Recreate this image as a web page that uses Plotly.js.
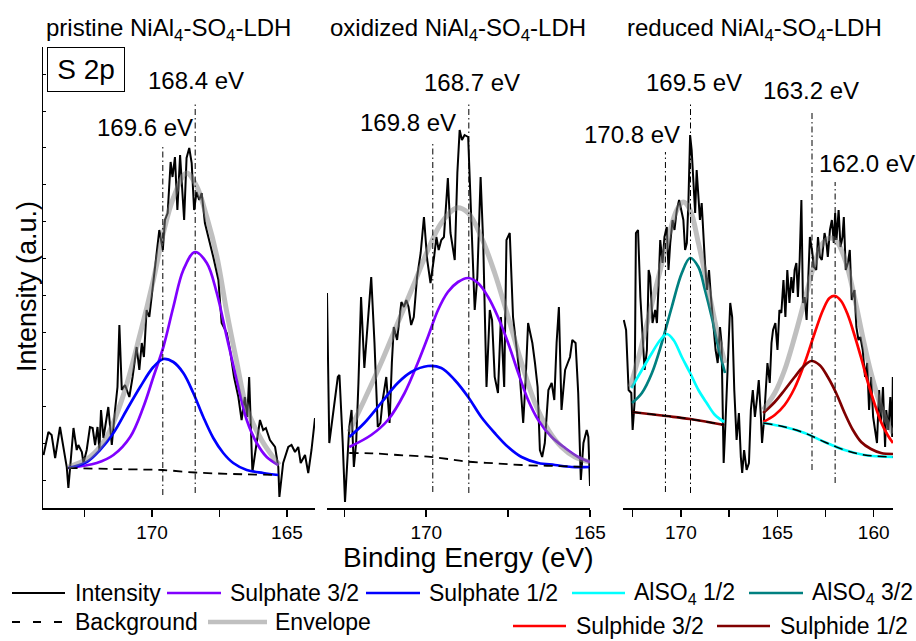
<!DOCTYPE html>
<html><head><meta charset="utf-8">
<script src="https://cdn.plot.ly/plotly-3.0.1.min.js"></script>
<style>html,body{margin:0;padding:0;background:#fff}#chart{width:916px;height:641px}</style>
</head><body><div id="chart"></div>
<script>
// ---------------- DATA ----------------
const panelTitles = ['pristine NiAl<sub>4</sub>-SO<sub>4</sub>-LDH','oxidized NiAl<sub>4</sub>-SO<sub>4</sub>-LDH','reduced NiAl<sub>4</sub>-SO<sub>4</sub>-LDH'];
const tickVals1 = [170,165];
const tickText1 = ['170','165'];
const minorVals1 = [172.5,167.5];
const tickVals3 = [170,165,160];
const tickText3 = ['170','165','160'];
const minorVals3 = [172.5,167.5,162.5];

// pristine: raw intensity
const prE = [174.02,173.84,173.72,173.59,173.41,173.28,173.16,173.10,173.04,172.91,172.79,172.73,172.60,172.54,172.42,172.30,172.20,172.11,172.02,171.95,171.89,171.80,171.62,171.49,171.37,171.28,171.21,171.12,171.00,170.84,170.72,170.57,170.47,170.38,170.30,170.20,170.10,169.95,169.83,169.73,169.60,169.52,169.42,169.31,169.24,169.15,169.06,168.96,168.81,168.72,168.62,168.53,168.44,168.35,168.25,168.16,168.04,167.91,167.73,167.54,167.42,167.23,167.11,166.96,166.80,166.68,166.56,166.47,166.40,166.28,166.15,166.00,165.88,165.78,165.63,165.44,165.32,165.28,165.14,164.95,164.83,164.70,164.58,164.49,164.33,164.21,164.09,163.96];
const prI = [53,76,73,50,81,58,41,20,41,80,58,63,56,45,58,81,80,63,81,58,98,70,101,63,98,121,183,118,123,111,131,161,138,165,151,198,191,225,251,278,258,288,295,346,331,351,298,353,288,350,360,345,298,316,308,315,285,271,251,228,185,175,158,131,111,88,111,91,131,36,58,88,78,80,68,61,41,11,45,61,63,56,61,45,53,35,58,90];
const prS32E = [173.10,172.05,171.43,170.81,170.32,169.95,169.58,169.21,168.84,168.41,167.97,167.60,167.23,166.86,166.49,166.12,165.75,165.32];
const prS32 = [40,45,53,71,101,131,161,201,238,256,245,215,171,128,88,65,51,43];
const prS12E = [173.10,172.42,171.93,171.43,170.94,170.44,169.95,169.58,169.21,168.84,168.47,168.10,167.73,167.36,166.99,166.49,165.88,165.32];
const prS12 = [40,46,58,75,98,121,141,149,146,135,115,91,70,55,45,38,35,33];
const prBgE = [173.10,171.50,170.00,169.60,168.40,167.00,165.32];
const prBg = [40,39,38.3,38,35.5,34,33];
const prEnvE = [173.10,172.30,171.68,171.06,170.44,169.95,169.58,169.21,168.72,168.35,167.97,167.60,167.23,166.86,166.49,165.94,165.49,165.28];
const prEnv = [41,51,71,113,174,228,275,310,335,322,291,252,196,146,100,68,50,43];
const prPeaks = [169.6,168.4];
const prDropTop = [361,405];
const prDropBot = [13,15];

// oxidized
const oxE = [173.03,172.96,172.70,172.65,172.55,172.48,172.35,172.28,172.21,172.14,172.07,171.99,171.89,171.79,171.68,171.58,171.48,171.40,171.33,171.22,171.12,171.05,170.99,170.89,170.82,170.76,170.68,170.61,170.54,170.46,170.38,170.28,170.17,170.07,169.97,169.87,169.76,169.69,169.62,169.54,169.46,169.41,169.34,169.26,169.13,169.05,168.98,168.91,168.83,168.72,168.67,168.60,168.52,168.44,168.34,168.26,168.16,168.06,167.99,167.91,167.81,167.72,167.62,167.55,167.45,167.35,167.24,167.14,167.04,166.97,166.89,166.76,166.68,166.60,166.53,166.46,166.38,166.27,166.17,166.09,166.02,165.95,165.87,165.76,165.68,165.61,165.54,165.44,165.36,165.28,165.20,165.10,165.05,165.00];
const oxI = [215,65,131,133,65,6,81,98,41,65,125,211,140,181,231,165,81,85,108,131,85,145,181,168,191,206,201,208,201,183,191,231,255,291,248,225,251,271,258,268,271,298,330,275,248,335,378,368,373,371,331,275,198,231,331,265,121,198,188,131,115,191,121,268,275,191,158,131,85,125,185,165,145,121,58,51,65,118,125,108,165,201,98,138,145,151,168,165,115,28,65,78,71,22];
const oxS32E = [172.35,171.68,171.17,170.66,170.26,169.95,169.64,169.34,169.03,168.72,168.42,168.11,167.81,167.50,167.19,166.89,166.58,166.17,165.76,165.36,165.00];
const oxS32 = [61,73,88,115,145,171,198,216,226,230,225,211,191,165,135,108,88,71,60,51,46];
const oxS12E = [172.35,171.89,171.38,170.87,170.46,169.95,169.54,169.13,168.72,168.32,167.91,167.50,167.09,166.58,166.07,165.56,165.00];
const oxS12 = [71,85,105,125,136,142,140,128,111,91,75,61,51,45,43,41,41];
const oxBgE = [172.35,171.68,170.87,169.95,169.34,168.72,167.91,167.09,166.07,165.00];
const oxBg = [55,54.7,53,51.3,49,46.3,44.7,43,42,40.7];
const oxEnvE = [172.36,171.89,171.38,170.87,170.36,169.95,169.54,169.08,168.72,168.32,167.91,167.50,167.09,166.68,166.27,165.87,165.46,165.00];
const oxEnv = [76,108,145,185,225,258,285,300,295,271,235,191,145,105,78,61,51,46];
const oxPeaks = [169.8,168.7];
const oxDropTop = [366,405];
const oxDropBot = [16,15];

// reduced
const rdE = [172.96,172.84,172.71,172.57,172.50,172.40,172.33,172.22,172.10,171.98,171.88,171.76,171.67,171.59,171.47,171.33,171.24,171.16,171.07,170.95,170.85,170.73,170.64,170.55,170.43,170.33,170.21,170.09,169.99,169.87,169.78,169.69,169.61,169.52,169.44,169.35,169.26,169.18,169.09,169.01,168.92,168.83,168.75,168.64,168.54,168.44,168.32,168.20,168.09,167.97,167.89,167.78,167.68,167.54,167.44,167.34,167.23,167.11,166.99,166.89,166.82,166.72,166.59,166.47,166.37,166.27,166.16,166.06,165.96,165.85,165.79,165.70,165.61,165.51,165.39,165.30,165.22,165.10,164.99,164.89,164.79,164.68,164.58,164.48,164.37,164.27,164.18,164.10,164.01,163.93,163.84,163.75,163.67,163.58,163.48,163.38,163.31,163.20,163.10,162.98,162.89,162.79,162.69,162.55,162.45,162.38,162.27,162.17,162.07,162.00,161.93,161.82,161.72,161.62,161.55,161.45,161.34,161.24,161.14,161.00,160.90,160.79,160.69,160.57,160.45,160.34,160.24,160.14,160.03,159.93,159.83,159.72,159.62,159.52,159.41,159.35,159.24,159.14,159.04,159.01];
const rdI = [188,178,118,115,78,105,275,278,211,171,138,158,238,231,185,198,185,221,268,245,271,281,238,265,288,278,298,308,298,288,258,265,305,373,358,331,295,338,315,288,305,265,245,218,238,211,185,158,145,181,165,45,88,168,205,191,118,68,95,51,35,58,38,45,98,118,91,108,128,91,65,85,115,145,125,165,178,185,158,198,195,228,191,238,205,231,215,238,245,211,248,308,205,211,188,241,271,258,241,238,271,251,248,275,265,251,278,288,265,295,268,298,261,271,291,238,245,258,208,218,181,168,171,158,131,145,98,131,91,78,65,118,85,121,61,98,78,111,71,131];
const rdAl32E = [172.53,172.02,171.50,170.99,170.47,169.95,169.52,169.09,168.75,168.40,168.06,167.71];
const rdAl32 = [105,115,135,165,201,235,250,241,218,191,161,135];
const rdAl12E = [172.57,172.02,171.50,171.07,170.73,170.38,169.95,169.52,169.09,168.66,168.23,167.75];
const rdAl12 = [120,138,155,168,174,168,151,135,118,105,93,86];
const rdBgAE = [172.53,170.76,169.52,167.75];
const rdBgA = [96,92,89,83];
const rdEnvAE = [172.62,172.19,171.67,171.16,170.64,170.21,169.87,169.52,169.09,168.57,168.06,167.71];
const rdEnvA = [121,151,191,231,271,298,306,298,265,218,171,145];
const rdSd32E = [165.73,165.13,164.62,164.10,163.58,163.06,162.63,162.29,162.00,161.69,161.34,161.00,160.65,160.31,159.97,159.62,159.28,159.00];
const rdSd32 = [86,93,103,120,145,175,198,210,212,207,193,173,150,126,105,86,73,65];
const rdSd12E = [165.73,165.13,164.62,164.10,163.67,163.24,162.81,162.38,161.95,161.51,161.08,160.65,160.14,159.62,159.00];
const rdSd12 = [95,106,118,131,141,147,143,131,115,95,78,66,59,55,54];
const rdBgBE = [165.73,164.61,163.58,162.55,161.51,160.48,159.00];
const rdBgB = [85,81,75,66,58,53,51];
const rdEnvBE = [165.73,165.13,164.62,164.10,163.58,163.06,162.63,162.20,161.86,161.43,161.00,160.57,160.14,159.62,159.19,159.00];
const rdEnvB = [98,115,138,171,208,245,265,270,265,245,211,171,135,101,81,75];
const rdPeaks = [170.8,169.5,163.2,162.0];
const rdDropTop = [356,405,396,326];
const rdDropBot = [16,15,38,25];

const legendNames = ['Intensity','Sulphate 3/2','Sulphate 1/2','AlSO<sub>4</sub> 1/2','AlSO<sub>4</sub> 3/2','Background','Envelope','Sulphide 3/2','Sulphide 1/2'];

// ---------------- STYLE / LAYOUT ----------------
const W = 916, H = 641;
const X = px => px / W;
const Y = py => 1 - py / H;
const FONT = 'Liberation Sans, Arial, sans-serif';
const C = {int:'#000000', s32:'#8000ff', s12:'#0000ff', al12:'#00ffff', al32:'#008080',
           bg:'#000000', env:'rgba(128,128,128,0.5)', envLeg:'#c0c0c0', sd32:'#ff0000', sd12:'#800000'};
const CW = 2.7;

function ln(x, y, k, color, width, opts) {
  opts = opts || {};
  return {type:'scatter', mode:'lines', x:x, y:y, xaxis:'x'+(k>1?k:''), yaxis:'y'+(k>1?k:''),
    line:{color:color, width:width, dash:opts.dash||'solid', shape:opts.spline?'spline':'linear', smoothing:opts.spline?1:0},
    hoverinfo:'skip', showlegend:false};
}
const BGDASH = '9px,6px';
const DROPDASH = '6px,3px,1.5px,3px';

const traces = [];
function drops(peaks, tops, bots, k) {
  peaks.forEach((p,i) => traces.push(ln([p,p],[bots[i],tops[i]],k,'#000',1,{dash:DROPDASH})));
}
// panel 1
traces.push(ln(prE, prI, 1, C.int, 2));
traces.push(ln(prS32E, prS32, 1, C.s32, CW, {spline:true}));
traces.push(ln(prS12E, prS12, 1, C.s12, CW, {spline:true}));
traces.push(ln(prBgE, prBg, 1, C.bg, 1.8, {spline:true, dash:BGDASH}));
traces.push(ln(prEnvE, prEnv, 1, C.env, 5, {spline:true}));
drops(prPeaks, prDropTop, prDropBot, 1);
// panel 2
traces.push(ln(oxE, oxI, 2, C.int, 2));
traces.push(ln(oxS32E, oxS32, 2, C.s32, CW, {spline:true}));
traces.push(ln(oxS12E, oxS12, 2, C.s12, CW, {spline:true}));
traces.push(ln(oxBgE, oxBg, 2, C.bg, 1.8, {spline:true, dash:BGDASH}));
traces.push(ln(oxEnvE, oxEnv, 2, C.env, 5, {spline:true}));
drops(oxPeaks, oxDropTop, oxDropBot, 2);
// panel 3
traces.push(ln(rdE, rdI, 3, C.int, 2));
traces.push(ln(rdAl32E, rdAl32, 3, C.al32, CW, {spline:true}));
traces.push(ln(rdAl12E, rdAl12, 3, C.al12, CW, {spline:true}));
traces.push(ln(rdBgAE, rdBgA, 3, C.sd12, CW, {spline:true}));
traces.push(ln(rdBgAE, rdBgA, 3, C.bg, 1.5, {spline:true, dash:BGDASH}));
traces.push(ln(rdSd32E, rdSd32, 3, C.sd32, CW, {spline:true}));
traces.push(ln(rdSd12E, rdSd12, 3, C.sd12, CW, {spline:true}));
traces.push(ln(rdBgBE, rdBgB, 3, C.al12, CW, {spline:true}));
traces.push(ln(rdBgBE, rdBgB, 3, C.bg, 1.5, {spline:true, dash:BGDASH}));
traces.push(ln(rdEnvAE, rdEnvA, 3, C.env, 5, {spline:true}));
traces.push(ln(rdEnvBE, rdEnvB, 3, C.env, 5, {spline:true}));
drops(rdPeaks, rdDropTop, rdDropBot, 3);

const yDom = [Y(508), Y(47)];
const yRange = [0, 461];
function xax(dom, range, tv, tt, mv) {
  return {domain:dom, range:range, showline:true, linecolor:'#000', linewidth:1.5, mirror:false,
    ticks:'outside', ticklen:7, tickwidth:1.5, tickcolor:'#000', tickmode:'array', tickvals:tv, ticktext:tt,
    minor:{tickmode:'array', tickvals:mv, ticks:'outside', ticklen:7, tickwidth:1.5, tickcolor:'#000', showgrid:false},
    tickfont:{family:FONT, size:19, color:'#000'}, showgrid:false, zeroline:false, fixedrange:true};
}
const layout = {
  width:W, height:H, margin:{l:0,r:0,t:0,b:0}, paper_bgcolor:'#fff', plot_bgcolor:'rgba(0,0,0,0)',
  font:{family:FONT, color:'#000'}, showlegend:false,
  xaxis: Object.assign(xax([X(43),X(315)], [174.04,163.96], tickVals1, tickText1, minorVals1), {anchor:'y'}),
  xaxis2: Object.assign(xax([X(327),X(590)], [173.03,165.0], tickVals1, tickText1, minorVals1), {anchor:'y2'}),
  xaxis3: Object.assign(xax([X(623),X(893)], [173.0,159.0], tickVals3, tickText3, minorVals3), {anchor:'y3'}),
  yaxis: {domain:yDom, range:yRange, anchor:'x', showline:true, linecolor:'#000', linewidth:1.5,
    ticks:'inside', ticklen:3, tickwidth:1, tickcolor:'#000', tickmode:'linear', tick0:28, dtick:36.9,
    showticklabels:false, showgrid:false, zeroline:false, fixedrange:true},
  yaxis2: {domain:yDom, range:yRange, anchor:'x2', visible:false, fixedrange:true},
  yaxis3: {domain:yDom, range:yRange, anchor:'x3', visible:false, fixedrange:true},
  annotations:[], shapes:[]
};
const A = layout.annotations, S = layout.shapes;
function txt(text, px, py, size, extra) {
  A.push(Object.assign({text:text, xref:'paper', yref:'paper', x:X(px), y:Y(py), xanchor:'center', yanchor:'middle',
    showarrow:false, font:{family:FONT, size:size, color:'#000'}}, extra||{}));
}
// panel titles
const titlePos = [[168,30],[457.5,30],[754,30]];
panelTitles.forEach((t,i) => txt(t, titlePos[i][0], titlePos[i][1], 24));
// axis titles
txt('Binding Energy (eV)', 469, 557, 28);
txt('Intensity (a.u.)', 27, 287, 27, {textangle:-90});
// S 2p box
A.push({text:'S 2p', xref:'paper', yref:'paper', x:X(47), y:Y(47), xanchor:'left', yanchor:'top',
  showarrow:false, font:{family:FONT, size:28, color:'#000'}, bordercolor:'#000', borderwidth:1, borderpad:0,
  bgcolor:'#fff', width:76, height:43});
// peak labels
const labelPx = [[144.5,127],[195.5,80],[407.5,123],[472.5,82],[632,134],[694,82],[810.5,90],[866.5,163]];
[].concat(prPeaks, oxPeaks, rdPeaks).forEach((p,i) => txt(p.toFixed(1)+' eV', labelPx[i][0], labelPx[i][1], 24));
// legend
const legStyle = [
  {c:C.int,w:2,d:'solid'},{c:C.s32,w:2.5,d:'solid'},{c:C.s12,w:2.5,d:'solid'},{c:C.al12,w:2.5,d:'solid'},
  {c:C.al32,w:2.5,d:'solid'},{c:'#000',w:2,d:'8px,13px'},{c:C.envLeg,w:4.5,d:'solid'},{c:C.sd32,w:2.5,d:'solid'},{c:C.sd12,w:2.5,d:'solid'}];
const legPos = [[12,65,73,593],[167,221,228,593],[366,420,427,593],[572,625,632,593],[749,803,810,593],
  [12,65,73,622],[208,267,273,622],[513,566,574,626],[717,770,778,626]];
legendNames.forEach((n,i) => {
  const p = legPos[i], s = legStyle[i];
  S.push({type:'line', xref:'paper', yref:'paper', x0:X(p[0]), x1:X(p[1]), y0:Y(p[3]), y1:Y(p[3]),
    line:{color:s.c, width:s.w, dash:s.d}});
  txt(n, p[2], p[3], 23, {xanchor:'left'});
});

Plotly.newPlot('chart', traces, layout, {staticPlot:true, displayModeBar:false});
</script></body></html>
